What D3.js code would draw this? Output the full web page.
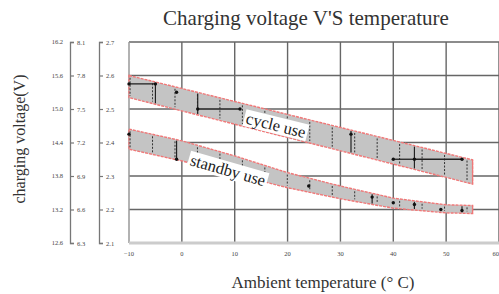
<!DOCTYPE html>
<html>
<head>
<meta charset="utf-8">
<script src="https://cdn.jsdelivr.net/npm/d3@7"></script>
<style>
  body { margin: 0; background: #fff; }
  svg { display: block; }
</style>
</head>
<body>
<div id="chart"></div>
<script>
// chart data
const temps = [-10, 0, 10, 20, 30, 40, 50, 60];
const cellVolts = [2.1, 2.2, 2.3, 2.4, 2.5, 2.6, 2.7];
const volts6 = [6.3, 6.6, 6.9, 7.2, 7.5, 7.8, 8.1];
const volts12 = [12.6, 13.2, 13.8, 14.4, 15.0, 15.6, 16.2];

// cycle use band (upper / lower edge, V per cell)
const cycleTemps = [-10, 55];
const cycleUpper = [2.60, 2.348];
const cycleLower = [2.534, 2.276];
const cycleDotT = [-10, -5, -1, 3, 11, 32, 40, 44, 53];
const cycleDotV = [2.575, 2.575, 2.55, 2.50, 2.50, 2.425, 2.35, 2.35, 2.35];

// standby use band
const standbyTemps = [-10, 0, 10, 20, 30, 40, 50, 55];
const standbyUpper = [2.44, 2.405, 2.36, 2.31, 2.27, 2.234, 2.214, 2.212];
const standbyLower = [2.38, 2.345, 2.305, 2.265, 2.232, 2.204, 2.19, 2.188];
const standbyDotT = [-10, -1, 24, 36, 40, 44, 49, 53];
const standbyDotV = [2.425, 2.35, 2.27, 2.237, 2.22, 2.215, 2.20, 2.197];

const width = 499, height = 294;
const svg = d3.select('#chart').append('svg')
    .attr('width', width)
    .attr('height', height);

const x = d3.scaleLinear().domain([-10, 60]).range([129, 499]);
const y = d3.scaleLinear().domain([2.1, 2.7]).range([243, 42]);
const y6 = d3.scaleLinear().domain([6.3, 8.1]).range([243, 42]);
const y12 = d3.scaleLinear().domain([12.6, 16.2]).range([243, 42]);

const serif = '"Liberation Serif", "DejaVu Serif", serif';

// grid
svg.append('g').selectAll('line.v')
    .data(temps.slice(1))
    .enter().append('line')
    .attr('x1', d => x(d)).attr('x2', d => x(d))
    .attr('y1', y(2.7)).attr('y2', y(2.1))
    .attr('stroke', '#666').attr('stroke-width', 1.4);

svg.append('g').selectAll('line.h')
    .data(cellVolts.slice(1))
    .enter().append('line')
    .attr('x1', x(-10)).attr('x2', x(60))
    .attr('y1', d => y(d)).attr('y2', d => y(d))
    .attr('stroke', '#666').attr('stroke-width', 1.4);

// frame: left and bottom drawn light
svg.append('line')
    .attr('x1', x(-10)).attr('x2', x(-10))
    .attr('y1', y(2.7)).attr('y2', y(2.1))
    .attr('stroke', '#999').attr('stroke-width', 1.5);
svg.append('line')
    .attr('x1', x(-10)).attr('x2', x(60))
    .attr('y1', y(2.1)).attr('y2', y(2.1))
    .attr('stroke', '#ccc').attr('stroke-width', 3);

// bands
function bandPath(ts, up, lo) {
    const pts = ts.map((t, i) => [x(t), y(up[i])])
        .concat(ts.map((t, i) => [x(t), y(lo[i])]).reverse());
    return d3.line().curve(d3.curveLinearClosed)(pts);
}

function interp(ts, vs, t) {
    return d3.scaleLinear().domain(ts).range(vs).clamp(true)(t);
}

function drawBand(ts, up, lo, dotT, dotV) {
    const g = svg.append('g');
    g.append('path')
        .attr('d', bandPath(ts, up, lo))
        .attr('fill', '#c4c4c4')
        .attr('stroke', '#f07878')
        .attr('stroke-width', 1.4)
        .attr('stroke-dasharray', '3,1');

    // dashed range lines inside the band
    const t0 = ts[0], t1 = ts[ts.length - 1];
    const dashT = d3.range(t0 + 0.2, t1, 4.25);
    g.selectAll('line.dash')
        .data(dashT)
        .enter().append('line')
        .attr('x1', d => x(d)).attr('x2', d => x(d))
        .attr('y1', d => y(interp(ts, up, d)) + 2)
        .attr('y2', d => y(interp(ts, lo, d)) - 2)
        .attr('stroke', '#333')
        .attr('stroke-width', 1)
        .attr('stroke-dasharray', '2,1.5');

    // right end edge
    g.append('line')
        .attr('x1', x(t1)).attr('x2', x(t1))
        .attr('y1', y(up[up.length - 1])).attr('y2', y(lo[lo.length - 1]))
        .attr('stroke', '#f07878').attr('stroke-width', 1.2);

    // measurement segments and dots
    const dots = dotT.map((t, i) => ({ t: t, v: dotV[i] }));
    const segs = dots.slice(1)
        .map((d, i) => [dots[i], d])
        .filter(p => Math.abs(p[0].v - p[1].v) < 0.001);
    g.selectAll('line.seg')
        .data(segs)
        .enter().append('line')
        .attr('x1', d => x(d[0].t)).attr('x2', d => x(d[1].t))
        .attr('y1', d => y(d[0].v)).attr('y2', d => y(d[1].v))
        .attr('stroke', '#222')
        .attr('stroke-width', 1.3);
    g.selectAll('line.solid')
        .data(dots.filter((d, i) => i % 2 === 1))
        .enter().append('line')
        .attr('x1', d => x(d.t)).attr('x2', d => x(d.t))
        .attr('y1', d => y(interp(ts, up, d.t)) + 1)
        .attr('y2', d => y(interp(ts, lo, d.t)) - 1)
        .attr('stroke', '#222')
        .attr('stroke-width', 1.2);
    g.selectAll('circle')
        .data(dots)
        .enter().append('circle')
        .attr('cx', d => x(d.t))
        .attr('cy', d => y(d.v))
        .attr('r', 1.7)
        .attr('fill', '#111');
}

drawBand(cycleTemps, cycleUpper, cycleLower, cycleDotT, cycleDotV);
drawBand(standbyTemps, standbyUpper, standbyLower, standbyDotT, standbyDotV);

// band labels
function bandLabel(text, cx, cy, angle) {
    const g = svg.append('g')
        .attr('transform', `translate(${cx},${cy}) rotate(${angle})`);
    const t = g.append('text')
        .attr('text-anchor', 'middle')
        .attr('dy', '0.35em')
        .attr('font-family', serif)
        .attr('font-size', 16.5)
        .attr('fill', '#222')
        .text(text);
    const bb = t.node().getBBox();
    g.insert('rect', 'text')
        .attr('x', bb.x - 2).attr('y', bb.y + 1)
        .attr('width', bb.width + 4).attr('height', bb.height - 2)
        .attr('fill', '#fff');
}
bandLabel('cycle use', 276, 125, 14);
bandLabel('standby use', 228, 170, 16);

// left axes
function leftAxis(scale, values, xpos) {
    const g = svg.append('g')
        .attr('transform', `translate(${xpos},0)`)
        .call(d3.axisRight(scale).tickValues(values).tickSize(4).tickPadding(3)
            .tickFormat(d3.format('.1f')));
    g.select('.domain').attr('stroke', '#777').attr('stroke-width', 1.3);
    g.selectAll('.tick line').attr('stroke', '#777').attr('stroke-width', 1.2);
    g.selectAll('.tick text')
        .attr('font-family', serif).attr('font-size', 6.5).attr('fill', '#444');
    return g;
}
leftAxis(y6, volts6, 70);
leftAxis(y, cellVolts, 99);

svg.append('g').selectAll('text')
    .data(volts12)
    .enter().append('text')
    .attr('x', 63)
    .attr('y', d => y12(d))
    .attr('dy', '0.32em')
    .attr('text-anchor', 'end')
    .attr('font-family', serif)
    .attr('font-size', 6.5)
    .attr('fill', '#444')
    .text(d => d3.format('.1f')(d));

// x axis labels
svg.append('g').selectAll('text')
    .data(temps)
    .enter().append('text')
    .attr('x', d => x(d))
    .attr('y', 256)
    .attr('text-anchor', d => d === 60 ? 'end' : 'middle')
    .attr('font-family', serif)
    .attr('font-size', 6.5)
    .attr('fill', '#444')
    .text(d => d === -10 ? '\u221210' : d);

// titles
svg.append('text')
    .attr('x', 306).attr('y', 25)
    .attr('text-anchor', 'middle')
    .attr('font-family', serif)
    .attr('font-size', 21)
    .attr('fill', '#333')
    .text("Charging voltage V'S temperature");

svg.append('text')
    .attr('x', 323).attr('y', 288)
    .attr('text-anchor', 'middle')
    .attr('font-family', serif)
    .attr('font-size', 17)
    .attr('fill', '#333')
    .text('Ambient temperature (\u00b0 C)');

svg.append('text')
    .attr('transform', 'translate(25,139) rotate(-90)')
    .attr('text-anchor', 'middle')
    .attr('font-family', serif)
    .attr('font-size', 16)
    .attr('fill', '#333')
    .text('charging voltage(V)');
</script>
</body>
</html>
